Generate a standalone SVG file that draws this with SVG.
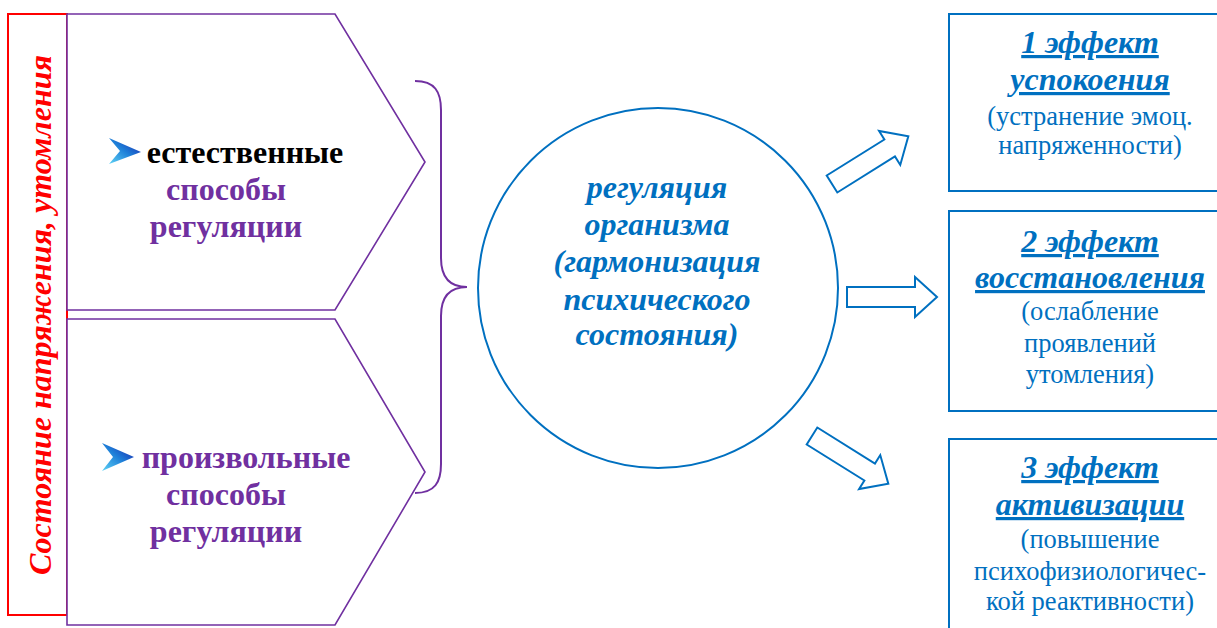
<svg xmlns="http://www.w3.org/2000/svg" width="1217" height="628" viewBox="0 0 1217 628">
<style>
.pent{fill:#fff;stroke:#7030A0;stroke-width:1.6}
.lbl{font-family:"Liberation Serif","Times New Roman",serif;font-weight:bold;font-size:32px;text-anchor:middle}
.purple{fill:#7030A0}
.blk{fill:#000}
.circ{font-family:"Liberation Serif","Times New Roman",serif;font-weight:bold;font-style:italic;font-size:32px;fill:#0070C0;text-anchor:middle}
.box{fill:#fff;stroke:#0070C0;stroke-width:2}
.head{font-family:"Liberation Serif","Times New Roman",serif;font-weight:bold;font-style:italic;font-size:32px;fill:#0070C0;text-anchor:middle;text-decoration:underline}
.body{font-family:"Liberation Serif","Times New Roman",serif;font-size:26.5px;fill:#0070C0;text-anchor:middle}
.side{font-family:"Liberation Serif","Times New Roman",serif;font-weight:bold;font-style:italic;font-size:32px;fill:#FF0000;text-anchor:middle}
.blockarrow{fill:#fff;stroke:#0070C0;stroke-width:2;stroke-linejoin:miter}
</style>
<defs>
<linearGradient id="bg" x1="0" y1="1" x2="1" y2="0">
<stop offset="0" stop-color="#5fd3f5"/>
<stop offset="0.5" stop-color="#1e7fd8"/>
<stop offset="1" stop-color="#1a1aa8"/>
</linearGradient>
<path id="barrow" d="M0,-10 H68 V-20 L90,0 L68,20 V10 H0 Z"/>
</defs>
<rect width="1217" height="628" fill="#fff"/>

<g id="state">
<rect x="8" y="14" width="59" height="601" fill="#fff" stroke="#FF0000" stroke-width="2"/>
<text class="side" transform="translate(51,315) rotate(-90)">Состояние напряжения, утомления</text>
</g>

<g id="natural">
<polygon class="pent" points="67,14 335,14 425,162 335,310 67,310"/>
<polygon points="109,138 141,152 109,164 120,151" fill="url(#bg)"/>
<text class="lbl blk" x="245" y="163">естественные</text>
<text class="lbl purple" x="226" y="200">способы</text>
<text class="lbl purple" x="226" y="237">регуляции</text>
</g>

<g id="voluntary">
<polygon class="pent" points="67,319 335,319 425,472 335,625 67,625"/>
<polygon points="102,443 134,457 102,471 113,457" fill="url(#bg)"/>
<text class="lbl purple" x="246" y="468">произвольные</text>
<text class="lbl purple" x="226" y="505">способы</text>
<text class="lbl purple" x="226" y="542">регуляции</text>
</g>

<g id="brace">
<path d="M415,81 C435,81 441,92 441,110 V258 C441,278 450,287 467,287 C450,287 441,296 441,316 V464 C441,482 435,493 415,493" fill="none" stroke="#7030A0" stroke-width="2"/>
</g>

<g id="regulation">
<circle cx="658" cy="288" r="180" fill="#fff" stroke="#0070C0" stroke-width="2"/>
<text class="circ" x="657" y="198">регуляция</text>
<text class="circ" x="657" y="235">организма</text>
<text class="circ" x="657" y="272">(гармонизация</text>
<text class="circ" x="657" y="310">психического</text>
<text class="circ" x="657" y="345">состояния)</text>
</g>

<g id="connectors">
<use href="#barrow" class="blockarrow" transform="translate(832,184) rotate(-32)"/>
<use href="#barrow" class="blockarrow" transform="translate(847,297)"/>
<use href="#barrow" class="blockarrow" transform="translate(812,436) rotate(32)"/>
</g>

<g id="effect1">
<rect class="box" x="949" y="14" width="280" height="177"/>
<text class="head" x="1090" y="53">1 эффект</text>
<text class="head" x="1090" y="90">успокоения</text>
<text class="body" x="1090" y="125">(устранение эмоц.</text>
<text class="body" x="1090" y="154">напряженности)</text>
</g>

<g id="effect2">
<rect class="box" x="949" y="211" width="280" height="200"/>
<text class="head" x="1090" y="252">2 эффект</text>
<text class="head" x="1090" y="288">восстановления</text>
<text class="body" x="1090" y="320">(ослабление</text>
<text class="body" x="1090" y="352">проявлений</text>
<text class="body" x="1090" y="383">утомления)</text>
</g>

<g id="effect3">
<rect class="box" x="949" y="439" width="280" height="200"/>
<text class="head" x="1090" y="478">3 эффект</text>
<text class="head" x="1090" y="515">активизации</text>
<text class="body" x="1090" y="548">(повышение</text>
<text class="body" x="1090" y="580">психофизиологичес-</text>
<text class="body" x="1090" y="610">кой реактивности)</text>
</g>
</svg>
